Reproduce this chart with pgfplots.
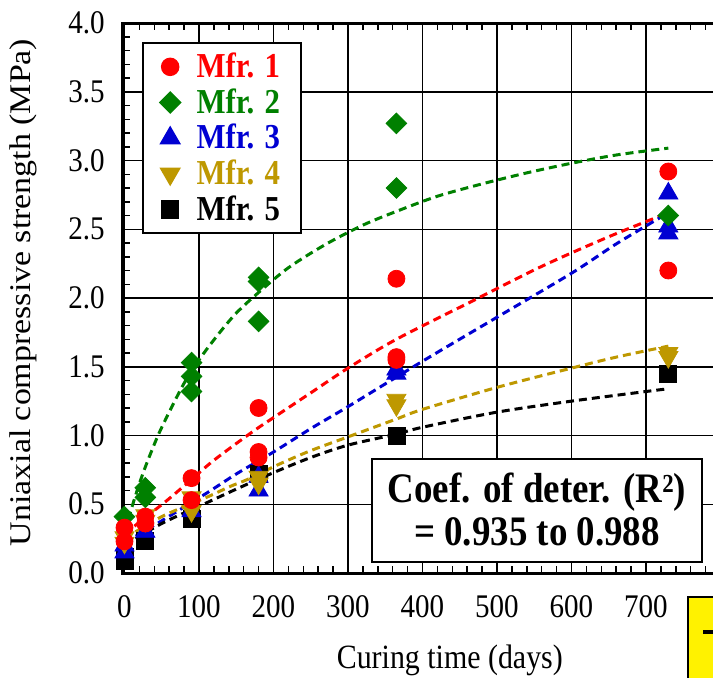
\documentclass[border=0pt]{standalone}
\usepackage{fontspec}
\setmainfont{Liberation Serif}[FakeStretch=0.88]
\newfontfamily\ylfont{Liberation Serif}[FakeStretch=1.13]
\usepackage{pgfplots}
\pgfplotsset{compat=1.18}
\usetikzlibrary{calc}

\definecolor{mred}{RGB}{255,0,0}
\definecolor{mgreen}{RGB}{0,128,0}
\definecolor{mblue}{RGB}{0,0,210}
\definecolor{molive}{RGB}{190,152,0}

\begin{document}
\begin{tikzpicture}
\begin{axis}[
 scale only axis,
 width=298.75pt, height=275pt,
 xmin=-2, xmax=800, ymin=0, ymax=4,
 xtick={0,100,...,800},
 xticklabels={0,100,200,300,400,500,600,700,{}},
 ytick={0,0.5,...,4},
 yticklabels={0.0,0.5,1.0,1.5,2.0,2.5,3.0,3.5,4.0},
 minor x tick num=4, minor y tick num=4,
 tick align=inside,
 major tick length=3.5pt, minor tick length=3.5pt,
 tick style={black, line width=0.75pt},
 grid=major,
 major grid style={black, line width=0.75pt},
 axis line style={line width=1.5pt},
 clip=false,
 /pgf/number format/assume math mode=true,
 tick label style={font=\rmfamily\fontsize{16.5}{16.5}\selectfont},
 xticklabel style={anchor=center, inner sep=0pt, yshift=-17pt},
 yticklabel style={anchor=east, inner sep=0pt, xshift=-9pt},
 xlabel={Curing time (days)},
 ylabel={Uniaxial compressive strength (MPa)},
 xlabel style={font=\fontsize{17}{17}\selectfont, at={(rel axis cs:0.547,0)}, anchor=center, yshift=-43.5pt},
 ylabel style={font=\ylfont\fontsize{15}{15}\selectfont, at={(rel axis cs:-0.166,0.51)}, anchor=center},
 legend style={at={(0.032,0.965)}, anchor=north west, draw=black, line width=0.75pt,
   font=\fontsize{17.5}{17.5}\selectfont\bfseries, row sep=0pt, inner xsep=8.5pt, inner ysep=3pt},
 legend cell align=left,
]
\coordinate (bl) at (rel axis cs:0,0);

\addlegendimage{only marks, mark=*, mark size=4.25pt, color=mred}
\addlegendentry{\hspace{6pt}\textcolor{mred}{Mfr. 1}\hspace{4pt}}
\addlegendimage{only marks, mark=square*, mark size=3.65pt, mark options={rotate=45}, color=mgreen}
\addlegendentry{\hspace{6pt}\textcolor{mgreen}{Mfr. 2}\hspace{4pt}}
\addlegendimage{only marks, mark=triangle*, mark size=5.5pt, color=mblue}
\addlegendentry{\hspace{6pt}\textcolor{mblue}{Mfr. 3}\hspace{4pt}}
\addlegendimage{only marks, mark=triangle*, mark size=5.5pt, mark options={rotate=180}, color=molive}
\addlegendentry{\hspace{6pt}\textcolor{molive}{Mfr. 4}\hspace{4pt}}
\addlegendimage{only marks, mark=square*, mark size=4.25pt, color=black}
\addlegendentry{\hspace{6pt}\textcolor{black}{Mfr. 5}\hspace{4pt}}

% fitted curves
\pgfplotsset{fitline/.style={no marks, smooth, line width=1.5pt, dash pattern=on 4pt off 2.5pt, forget plot}}
\addplot[fitline, mgreen] coordinates {(0,0.30) (5,0.39) (10,0.48) (20,0.65) (30,0.80) (45,1.00) (60,1.17) (80,1.38) (100,1.55) (125,1.73) (150,1.89) (180,2.04) (220,2.22) (270,2.39) (320,2.53) (365,2.63) (420,2.74) (480,2.83) (540,2.91) (600,2.98) (660,3.04) (730,3.09)};
\addplot[fitline, mred] coordinates {(0,0.28) (20,0.37) (46,0.48) (62,0.55) (90,0.68) (120,0.82) (170,1.02) (200,1.13) (250,1.31) (300,1.49) (365,1.70) (464,1.97) (560,2.23) (652,2.45) (730,2.62)};
\addplot[fitline, mblue] coordinates {(0,0.22) (50,0.38) (110,0.58) (150,0.72) (200,0.88) (250,1.05) (300,1.21) (400,1.54) (500,1.86) (600,2.18) (662,2.40) (730,2.62)};
\addplot[fitline, molive] coordinates {(0,0.25) (50,0.41) (110,0.55) (142,0.63) (165,0.68) (207,0.79) (250,0.89) (300,0.99) (365,1.12) (400,1.19) (500,1.35) (600,1.49) (660,1.57) (730,1.65)};
\addplot[fitline, black] coordinates {(0,0.20) (50,0.36) (110,0.51) (150,0.61) (200,0.73) (250,0.84) (300,0.93) (365,1.01) (400,1.06) (500,1.17) (600,1.25) (700,1.32) (730,1.34)};

% measured values
\addplot[only marks, mark=square*, mark size=4.25pt, color=black, forget plot] coordinates {(0,0.09) (0,0.12) (28,0.23) (90,0.39) (180,0.72) (365,1.00) (730,1.45)};
\addplot[only marks, mark=triangle*, mark size=5.5pt, color=mblue, forget plot] coordinates {(0,0.15) (0,0.20) (28,0.30) (90,0.45) (180,0.60) (180,0.70) (365,1.48) (365,1.45) (730,2.76) (730,2.52) (730,2.47)};
\addplot[only marks, mark=triangle*, mark size=5.5pt, mark options={rotate=180}, color=molive, forget plot] coordinates {(0,0.26) (0,0.22) (28,0.42) (28,0.38) (90,0.55) (90,0.45) (180,0.70) (180,0.65) (365,1.26) (365,1.22) (730,1.60) (730,1.57)};
\addplot[only marks, mark=square*, mark size=3.65pt, mark options={rotate=45}, color=mgreen, forget plot] coordinates {(0,0.41) (28,0.62) (28,0.55) (90,1.53) (90,1.43) (90,1.32) (180,2.15) (180,2.12) (180,1.83) (365,3.27) (365,2.80) (730,2.60)};
\addplot[only marks, mark=*, mark size=4.25pt, color=mred, forget plot] coordinates {(0,0.33) (0,0.23) (28,0.41) (28,0.36) (90,0.69) (90,0.53) (180,1.20) (180,0.88) (180,0.84) (365,2.14) (365,1.57) (365,1.55) (730,2.92) (730,2.20)};
\end{axis}

\coordinate (O) at ($(bl)+(-61.5pt,286.5pt)$);
\begin{scope}[shift={(O)}, x=0.5pt, y=-0.5pt]
 \draw[line width=0.75pt, fill=white] (372,459) rectangle (702,562);
 \node[font=\fontsize{21}{21.5}\selectfont\bfseries, align=center] at (537,510)
   {Coef. of deter. (R\raisebox{0.55ex}{\fontsize{13}{13}\selectfont 2})\\= 0.935 to 0.988};
 \fill[yellow] (688,597) rectangle (740,700);
 \draw[line width=1pt] (740,597) -- (688,597) -- (688,700);
 \fill[black] (703,630) rectangle (713,634);
\end{scope}
\pgfresetboundingbox
\path[use as bounding box] (O) rectangle ($(O)+(356.5pt,-338.5pt)$);
\end{tikzpicture}
\end{document}
